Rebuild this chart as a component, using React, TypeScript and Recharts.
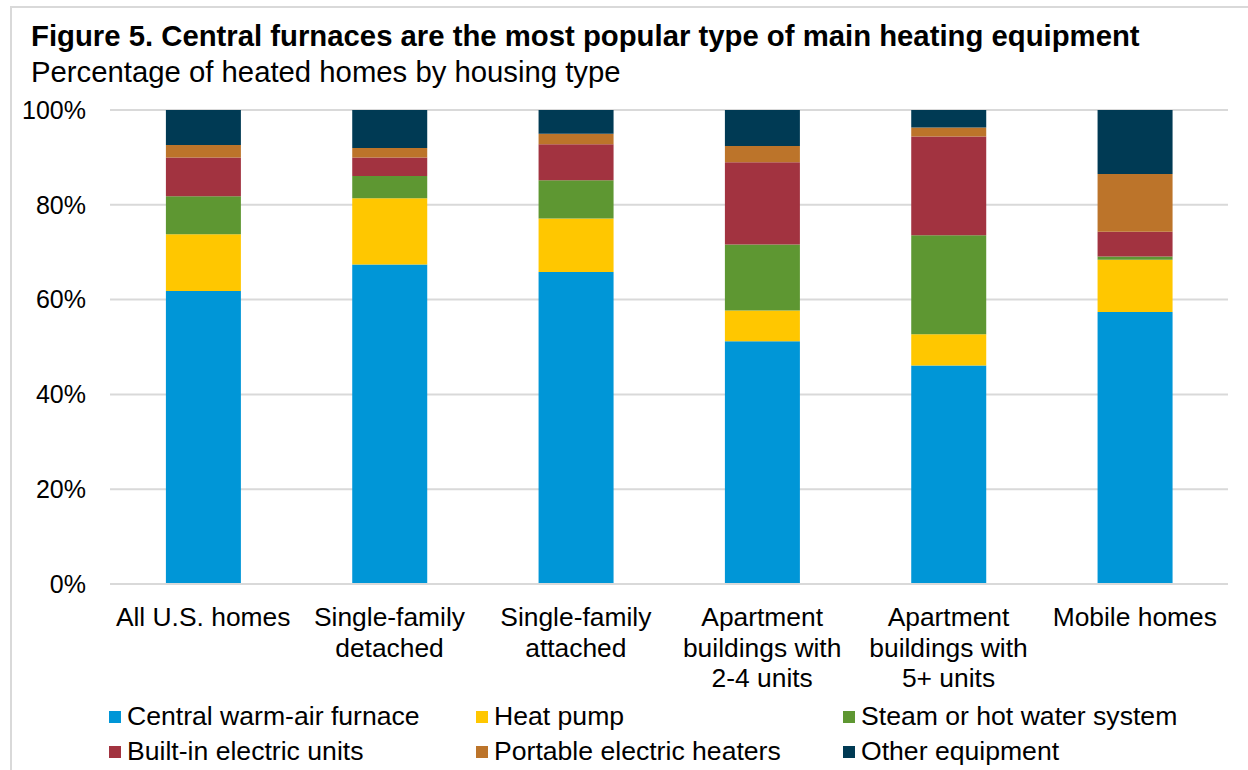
import { BarChart, Bar, XAxis, YAxis, CartesianGrid } from 'recharts';

// housing types (line breaks as in the original labels)
const categories = [
  'All U.S. homes',
  'Single-family\ndetached',
  'Single-family\nattached',
  'Apartment\nbuildings with\n2-4 units',
  'Apartment\nbuildings with\n5+ units',
  'Mobile homes',
];

// percent of heated homes, per equipment type
const furnace = [61.8, 67.4, 65.8, 51.2, 46.1, 57.4];
const heatPump = [12.0, 14.0, 11.3, 6.5, 6.6, 11.0];
const steam = [8.0, 4.7, 8.1, 13.9, 20.9, 0.7];
const builtIn = [8.2, 3.9, 7.6, 17.4, 20.8, 5.2];
const portable = [2.6, 2.0, 2.2, 3.4, 1.9, 12.2];
const other = [7.4, 8.0, 5.0, 7.6, 3.7, 13.5];

const yTicks = [0, 20, 40, 60, 80, 100];

const series = [
  { key: 'furnace', name: 'Central warm-air furnace', color: '#0096D7', values: furnace },
  { key: 'heatPump', name: 'Heat pump', color: '#FFC700', values: heatPump },
  { key: 'steam', name: 'Steam or hot water system', color: '#5E9732', values: steam },
  { key: 'builtIn', name: 'Built-in electric units', color: '#A23340', values: builtIn },
  { key: 'portable', name: 'Portable electric heaters', color: '#BC742A', values: portable },
  { key: 'other', name: 'Other equipment', color: '#003A54', values: other },
];

const data = categories.map((name, i) => {
  const row: Record<string, string | number> = { name };
  series.forEach((s) => {
    row[s.key] = s.values[i];
  });
  return row;
});

const FONT = '"Liberation Sans", Arial, sans-serif';

function CategoryTick(props: any) {
  const { x, y, payload } = props;
  const lines = String(payload.value).split('\n');
  return (
    <text x={x} y={y} textAnchor="middle" fill="#000" fontSize={26.4} fontFamily={FONT}>
      {lines.map((line, i) => (
        <tspan key={i} x={x} dy={i === 0 ? 34 : 30.5}>
          {line}
        </tspan>
      ))}
    </text>
  );
}

export default function App() {
  return (
    <div
      style={{
        position: 'absolute',
        left: 0,
        top: 0,
        width: 1248,
        height: 770,
        background: '#fff',
        fontFamily: FONT,
        overflow: 'hidden',
      }}
    >
      {/* frame */}
      <div
        style={{
          position: 'absolute',
          left: 10,
          top: 6,
          right: -4,
          bottom: -4,
          borderTop: '2px solid #d9d9d9',
          borderLeft: '2px solid #d9d9d9',
        }}
      />
      <div
        style={{
          position: 'absolute',
          left: 31,
          top: 20.5,
          fontSize: 29.3,
          lineHeight: '29px',
          fontWeight: 'bold',
          color: '#000',
          whiteSpace: 'nowrap',
        }}
      >
        Figure 5. Central furnaces are the most popular type of main heating equipment
      </div>
      <div
        style={{
          position: 'absolute',
          left: 31,
          top: 56.5,
          fontSize: 29.3,
          lineHeight: '29px',
          color: '#000',
          whiteSpace: 'nowrap',
        }}
      >
        Percentage of heated homes by housing type
      </div>

      <div style={{ position: 'absolute', left: 0, top: 0 }}>
        <BarChart
          width={1248}
          height={770}
          data={data}
          margin={{ top: 110, right: 20, bottom: 86, left: 10 }}
          barCategoryGap="30%"
        >
          <CartesianGrid vertical={false} stroke="#d9d9d9" strokeWidth={2} />
          <XAxis
            dataKey="name"
            interval={0}
            height={100}
            tickLine={false}
            axisLine={{ stroke: '#d9d9d9', strokeWidth: 2 }}
            tick={<CategoryTick />}
          />
          <YAxis
            width={100}
            domain={[0, 100]}
            ticks={yTicks}
            tickFormatter={(v: number) => `${v}%`}
            tickLine={false}
            axisLine={false}
            tickMargin={18}
            tick={{ fill: '#000', fontSize: 25, fontFamily: FONT }}
          />
          {series.map((s) => (
            <Bar
              key={s.key}
              dataKey={s.key}
              name={s.name}
              stackId="a"
              fill={s.color}
              isAnimationActive={false}
            />
          ))}
        </BarChart>
      </div>

      {/* legend, 3 columns x 2 rows */}
      {series.map((s, i) => {
        const col = i % 3;
        const row = Math.floor(i / 3);
        const left = 109 + col * 367;
        return (
          <div key={s.key}>
            <div
              style={{
                position: 'absolute',
                left,
                top: 711 + row * 35,
                width: 12,
                height: 12,
                background: s.color,
              }}
            />
            <div
              style={{
                position: 'absolute',
                left: left + 18,
                top: 703 + row * 35,
                fontSize: 26.6,
                lineHeight: '26px',
                color: '#000',
                whiteSpace: 'nowrap',
              }}
            >
              {s.name}
            </div>
          </div>
        );
      })}
    </div>
  );
}
